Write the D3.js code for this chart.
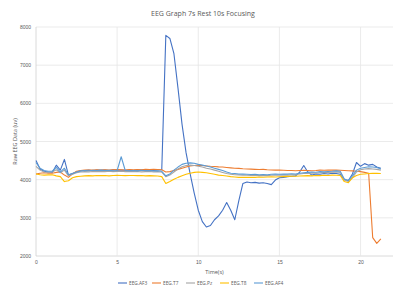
<!DOCTYPE html>
<html>
<head>
<meta charset="utf-8">
<script src="https://cdn.jsdelivr.net/npm/d3@7"></script>
<style>
  body { margin: 0; background: #fff; }
  svg { font-family: "Open Sans", "Liberation Sans", sans-serif; }
</style>
</head>
<body>
<div id="chart"></div>
<script>
// time stamps (s)
const times = [
  0, 0.25, 0.5, 0.75, 1, 1.25, 1.5, 1.75, 2, 2.25, 2.5, 2.75, 3, 3.25, 3.5, 3.75,
  4, 4.25, 4.5, 4.75, 5, 5.25, 5.5, 5.75, 6, 6.25, 6.5, 6.75, 7, 7.25, 7.5, 7.75,
  8, 8.25, 8.5, 8.75, 9, 9.25, 9.5, 9.75, 10, 10.25, 10.5, 10.75, 11, 11.25, 11.5, 11.75,
  12, 12.25, 12.5, 12.75, 13, 13.25, 13.5, 13.75, 14, 14.25, 14.5, 14.75, 15, 15.25, 15.5, 15.75,
  16, 16.25, 16.5, 16.75, 17, 17.25, 17.5, 17.75, 18, 18.25, 18.5, 18.75, 19, 19.25, 19.5, 19.75,
  20, 20.25, 20.5, 20.75, 21, 21.25
];

const af3 = [
  4500, 4280, 4220, 4200, 4190, 4380, 4250, 4530, 4120, 4160, 4200, 4230, 4240, 4250, 4235, 4255,
  4245, 4250, 4240, 4260, 4250, 4255, 4245, 4250, 4240, 4255, 4250, 4245, 4250, 4240, 4255, 4260,
  7780, 7700, 7300, 6400, 5450, 4700, 4150, 3650, 3200, 2900, 2760, 2800, 2950, 3050, 3200, 3400,
  3200, 2950, 3450, 3900, 3940, 3920, 3930, 3910, 3920, 3900, 3870, 3990, 4050, 4060, 4080, 4090,
  4100, 4200, 4370, 4200, 4120, 4150, 4140, 4160, 4150, 4170, 4160, 4140, 4000, 3980, 4150, 4450,
  4350, 4420, 4380, 4400, 4330, 4300
];

const t7 = [
  4150, 4170, 4180, 4170, 4170, 4190, 4200, 4120, 4060, 4150, 4220, 4240, 4250, 4255, 4250, 4260,
  4255, 4260, 4250, 4260, 4265, 4260, 4255, 4265, 4260, 4265, 4260, 4270, 4265, 4270, 4265, 4260,
  4200, 4210, 4240, 4270, 4300, 4330, 4360, 4370, 4375, 4370, 4360, 4350, 4345, 4335, 4330, 4320,
  4310, 4300, 4295, 4285, 4280, 4275, 4270, 4265, 4270, 4260, 4255, 4250, 4250, 4245, 4240, 4240,
  4235, 4240, 4245, 4240, 4235, 4240, 4250, 4245, 4250, 4255, 4250, 4245, 4240, 4235, 4230, 4220,
  4210, 4190, 4170, 2480, 2330, 2450
];

const pz = [
  4350, 4250, 4200, 4190, 4200, 4260, 4180, 4250, 4100, 4140, 4180, 4200, 4210, 4205, 4215, 4210,
  4215, 4210, 4220, 4210, 4215, 4220, 4210, 4215, 4210, 4215, 4205, 4210, 4215, 4205, 4210, 4200,
  4080, 4120, 4200, 4280, 4340, 4370, 4380, 4370, 4350, 4330, 4300, 4280, 4250, 4220, 4190, 4160,
  4140, 4130, 4125, 4120, 4115, 4110, 4115, 4105, 4110, 4105, 4115, 4120, 4120, 4125, 4120, 4130,
  4135, 4150, 4160, 4165, 4175, 4170, 4180, 4185, 4190, 4195, 4200, 4190, 3990, 3950, 4050, 4200,
  4260, 4280, 4290, 4280, 4270, 4250
];

const t8 = [
  4150, 4130, 4120, 4125, 4130, 4100, 4080, 3950, 3970, 4050, 4080, 4090, 4100, 4105, 4100, 4110,
  4105, 4110, 4100, 4110, 4115, 4110, 4105, 4110, 4110, 4105, 4110, 4100, 4105, 4100, 4095, 4080,
  3900, 3950, 4010, 4060, 4100, 4140, 4170, 4190, 4200, 4190, 4180, 4160, 4140, 4120, 4110, 4095,
  4080, 4070, 4060, 4065, 4060, 4065, 4060, 4070, 4065, 4070, 4075, 4070, 4075, 4080, 4085, 4090,
  4090, 4095, 4100, 4105, 4100, 4110, 4105, 4115, 4110, 4120, 4115, 4110, 3950, 3920, 4050, 4110,
  4140, 4150, 4160, 4165, 4170, 4160
];

const af4 = [
  4450, 4300, 4240, 4220, 4220, 4320, 4200, 4300, 4130, 4160, 4200, 4230, 4240, 4235, 4245, 4240,
  4250, 4240, 4245, 4235, 4240, 4600, 4240, 4235, 4240, 4230, 4245, 4235, 4240, 4230, 4235, 4220,
  4100, 4150, 4250, 4330, 4400, 4430, 4440, 4430, 4400, 4380, 4360, 4330, 4300, 4270, 4240, 4200,
  4170, 4160, 4150, 4145, 4140, 4135, 4140, 4130, 4135, 4130, 4140, 4145, 4140, 4150, 4145, 4155,
  4150, 4170, 4180, 4190, 4200, 4195, 4210, 4205, 4215, 4220, 4230, 4220, 4020, 3980, 4100, 4250,
  4300, 4320, 4340, 4330, 4320, 4280
];

const seriesNames = ['EEG.AF3', 'EEG.T7', 'EEG.Pz', 'EEG.T8', 'EEG.AF4'];
const seriesColors = ['#4472C4', '#ED7D31', '#A5A5A5', '#FFC000', '#5B9BD5'];
const xTicks = [0, 5, 10, 15, 20];
const yTicks = [2000, 3000, 4000, 5000, 6000, 7000, 8000];

const seriesValues = [af3, t7, pz, t8, af4];
const series = seriesNames.map((name, i) => ({
  name,
  color: seriesColors[i],
  points: times.map((t, j) => ({ t, v: seriesValues[i][j] }))
}));

const width = 400;
const height = 287;
const margin = { top: 27, right: 7, bottom: 31, left: 36 };

const svg = d3.select('#chart')
  .append('svg')
  .attr('width', width)
  .attr('height', height);

const x = d3.scaleLinear().domain([0, 22]).range([margin.left, width - margin.right]);
const y = d3.scaleLinear().domain([2000, 8000]).range([height - margin.bottom, margin.top]);

// gridlines
svg.append('g')
  .selectAll('line')
  .data(yTicks)
  .enter()
  .append('line')
  .attr('x1', x(0))
  .attr('x2', x(22))
  .attr('y1', d => y(d))
  .attr('y2', d => y(d))
  .attr('stroke', d => d === 2000 ? '#d0d0d0' : '#e6e6e6')
  .attr('stroke-width', 0.8);

svg.append('g')
  .selectAll('line')
  .data(xTicks)
  .enter()
  .append('line')
  .attr('x1', d => x(d))
  .attr('x2', d => x(d))
  .attr('y1', y(2000))
  .attr('y2', y(8000))
  .attr('stroke', d => d === 0 ? '#d0d0d0' : '#e6e6e6')
  .attr('stroke-width', 0.8);

// axes (labels only, Excel style)
const xAxis = svg.append('g')
  .attr('transform', `translate(0,${y(2000)})`)
  .call(d3.axisBottom(x).tickValues(xTicks).tickSize(0).tickPadding(4));
xAxis.select('.domain').remove();
xAxis.selectAll('text').attr('fill', '#595959').style('font-size', '5px');

const yAxis = svg.append('g')
  .attr('transform', `translate(${x(0)},0)`)
  .call(d3.axisLeft(y).tickValues(yTicks).tickFormat(d3.format('d')).tickSize(0).tickPadding(5));
yAxis.select('.domain').remove();
yAxis.selectAll('text').attr('fill', '#595959').style('font-size', '5px');

// lines
const line = d3.line()
  .x(d => x(d.t))
  .y(d => y(d.v));

svg.append('g')
  .selectAll('path')
  .data(series)
  .enter()
  .append('path')
  .attr('d', d => line(d.points))
  .attr('fill', 'none')
  .attr('stroke', d => d.color)
  .attr('stroke-width', 1.1)
  .attr('stroke-linejoin', 'round');

// titles
svg.append('text')
  .attr('x', 203)
  .attr('y', 16)
  .attr('text-anchor', 'middle')
  .attr('fill', '#595959')
  .style('font-size', '7px')
  .text('EEG Graph 7s Rest 10s Focusing');

svg.append('text')
  .attr('x', (x(0) + x(22)) / 2)
  .attr('y', 274)
  .attr('text-anchor', 'middle')
  .attr('fill', '#595959')
  .style('font-size', '5.5px')
  .text('Time(s)');

svg.append('text')
  .attr('transform', `translate(17,${(y(2000) + y(8000)) / 2}) rotate(-90)`)
  .attr('text-anchor', 'middle')
  .attr('fill', '#595959')
  .style('font-size', '5.5px')
  .text('Raw EEG Data (uv)');

// legend
const legend = svg.append('g')
  .selectAll('g')
  .data(series)
  .enter()
  .append('g')
  .attr('transform', (d, i) => `translate(${118 + i * 34},283)`);

legend.append('line')
  .attr('x1', 0)
  .attr('x2', 9)
  .attr('y1', 0)
  .attr('y2', 0)
  .attr('stroke', d => d.color)
  .attr('stroke-width', 1.1);

legend.append('text')
  .attr('x', 11)
  .attr('y', 1.7)
  .attr('fill', '#595959')
  .style('font-size', '4.8px')
  .text(d => d.name);
</script>
</body>
</html>
